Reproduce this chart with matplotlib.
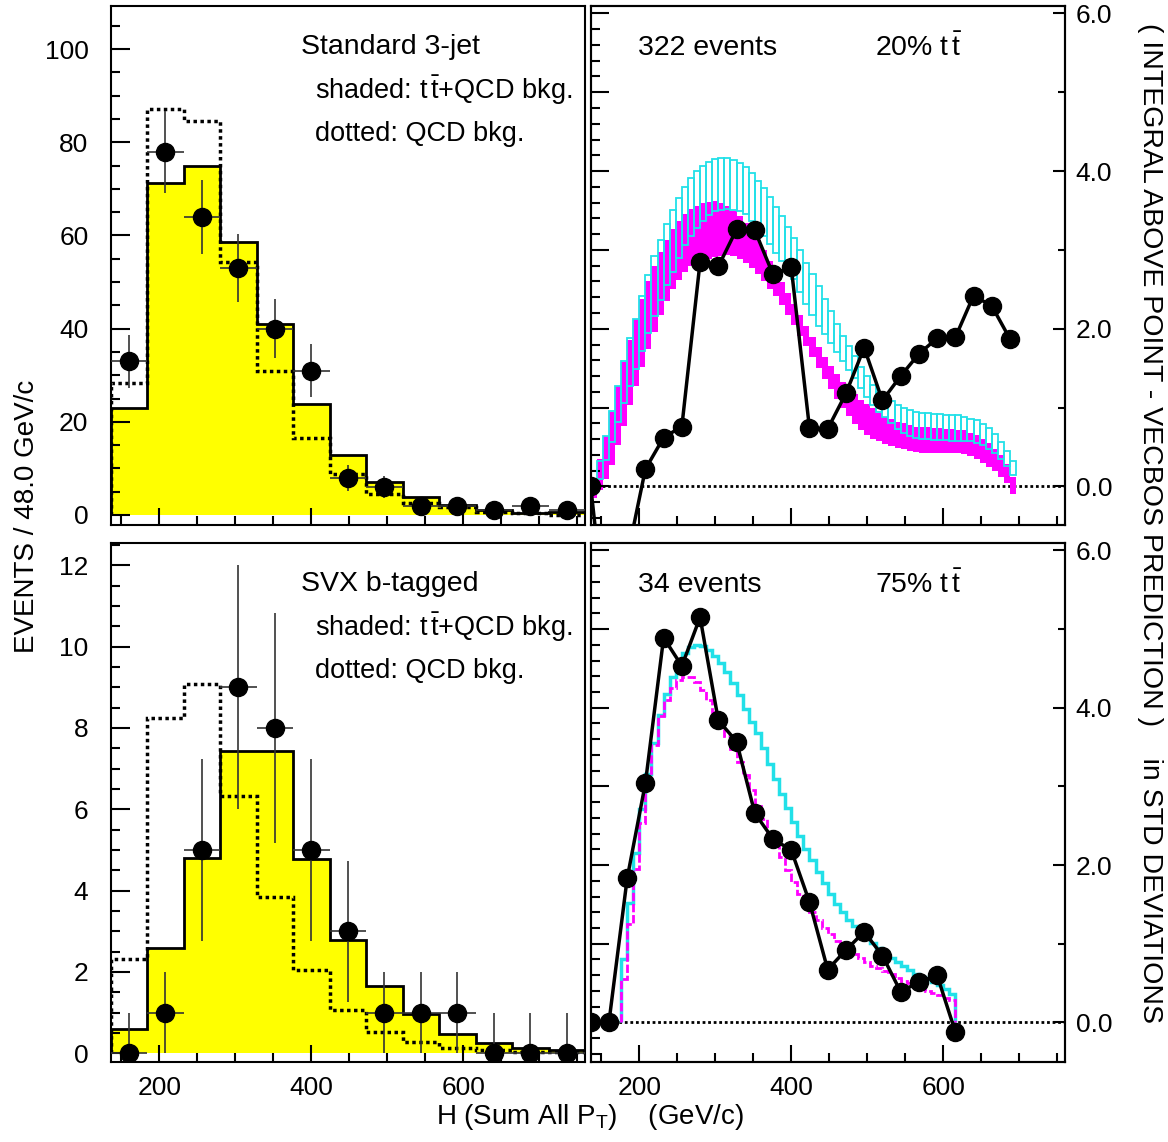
import numpy as np
import matplotlib
matplotlib.use('Agg')
import matplotlib.pyplot as plt
from matplotlib.ticker import MultipleLocator, FormatStrFormatter, NullFormatter

plt.rcParams['font.family'] = ['Liberation Sans', 'DejaVu Sans']
plt.rcParams['mathtext.fontset'] = 'custom'
plt.rcParams['mathtext.rm'] = 'Liberation Sans'
plt.rcParams['mathtext.it'] = 'Liberation Sans:italic'

# --- left panels: 48 GeV bins from 136 to 760 ---
edges = np.arange(136, 761, 48)
centers = edges[:-1] + 24

std_total = [23, 71.2, 74.8, 58.6, 41.0, 23.9, 12.9, 7.1, 3.8, 2.1, 1.1, 0.4, 0.7]
std_qcd = [28.4, 87.1, 84.6, 54.2, 30.9, 16.6, 8.8, 4.6, 2.5, 1.8, 0.7, 0.4, 0.0]
std_data = [33, 78, 64, 53, 40, 31, 8, 6, 2, 2, 1, 2, 1]
std_err = [5.7, 8.8, 8.0, 7.3, 6.3, 5.6, 2.8, 2.4, 1.4, 1.4, 1.0, 1.4, 1.0]

svx_total = [0.59, 2.58, 4.81, 7.44, 7.44, 4.77, 2.78, 1.65, 0.97, 0.47, 0.25, 0.14, 0.07]
svx_qcd = [2.31, 8.25, 9.09, 6.32, 3.84, 2.06, 1.06, 0.53, 0.28, 0.14, 0.07, 0.04, 0.02]
svx_data = [0, 1, 5, 9, 8, 5, 3, 1, 1, 1, 0, 0, 0]
svx_err = [1.0, 1.0, 2.24, 3.0, 2.83, 2.24, 1.73, 1.0, 1.0, 1.0, 1.0, 1.0, 1.0]

# --- right panels: integral above point, std deviations ---
fine_top = np.arange(136, 697, 8)
mag_hi_top = [0.05, 0.35, 0.64, 0.94, 1.28, 1.58, 1.86, 2.13, 2.38, 2.60, 2.80, 2.97, 3.12, 3.26,
              3.37, 3.46, 3.52, 3.56, 3.59, 3.61, 3.62, 3.60, 3.56, 3.50, 3.43, 3.34, 3.23, 3.12,
              3.00, 2.86, 2.72, 2.59, 2.45, 2.31, 2.17, 2.04, 1.90, 1.77, 1.64, 1.53, 1.43, 1.33,
              1.25, 1.17, 1.10, 1.04, 0.99, 0.93, 0.88, 0.85, 0.82, 0.80, 0.78, 0.76, 0.75, 0.75,
              0.74, 0.74, 0.73, 0.73, 0.72, 0.71, 0.68, 0.65, 0.60, 0.55, 0.48, 0.40, 0.28, 0.12]
mag_lo_top = [-0.15, -0.05, 0.09, 0.27, 0.52, 0.77, 1.03, 1.27, 1.52, 1.74, 1.96, 2.18, 2.35, 2.50,
              2.62, 2.72, 2.79, 2.83, 2.86, 2.88, 2.91, 2.92, 2.93, 2.92, 2.89, 2.83, 2.77, 2.70,
              2.61, 2.50, 2.41, 2.30, 2.18, 2.05, 1.91, 1.78, 1.64, 1.50, 1.36, 1.23, 1.11, 1.00,
              0.89, 0.79, 0.71, 0.65, 0.60, 0.57, 0.54, 0.51, 0.49, 0.47, 0.45, 0.44, 0.43, 0.43,
              0.43, 0.43, 0.42, 0.42, 0.42, 0.41, 0.38, 0.35, 0.30, 0.25, 0.19, 0.12, 0.04, -0.09]
cyan_hi_top = [0.02, 0.32, 0.64, 0.96, 1.28, 1.59, 1.88, 2.13, 2.41, 2.68, 2.92, 3.13, 3.33, 3.51,
               3.66, 3.80, 3.91, 4.00, 4.07, 4.12, 4.15, 4.16, 4.16, 4.14, 4.10, 4.05, 3.97, 3.88,
               3.78, 3.67, 3.55, 3.43, 3.29, 3.15, 3.00, 2.84, 2.69, 2.54, 2.38, 2.22, 2.06, 1.91,
               1.78, 1.65, 1.52, 1.40, 1.29, 1.20, 1.14, 1.08, 1.03, 1.00, 0.97, 0.95, 0.93, 0.93,
               0.92, 0.92, 0.91, 0.90, 0.90, 0.88, 0.86, 0.84, 0.79, 0.74, 0.66, 0.56, 0.45, 0.32]
cyan_lo_top = [-0.05, 0.10, 0.33, 0.56, 0.82, 1.06, 1.28, 1.49, 1.72, 1.94, 2.16, 2.37, 2.55, 2.72,
               2.90, 3.06, 3.18, 3.28, 3.37, 3.44, 3.49, 3.51, 3.52, 3.51, 3.49, 3.45, 3.37, 3.28,
               3.18, 3.07, 2.96, 2.86, 2.77, 2.63, 2.47, 2.31, 2.17, 2.04, 1.93, 1.82, 1.71, 1.59,
               1.48, 1.37, 1.25, 1.14, 1.03, 0.95, 0.88, 0.80, 0.73, 0.68, 0.64, 0.62, 0.60, 0.60,
               0.59, 0.59, 0.59, 0.58, 0.58, 0.57, 0.57, 0.55, 0.52, 0.48, 0.42, 0.35, 0.26, 0.15]
pts_top_x = np.arange(136, 689, 24)
pts_top_y = [0.0, -2.1, -0.9, 0.22, 0.62, 0.76, 2.85, 2.79, 3.26, 3.25, 2.69, 2.78,
             0.74, 0.73, 1.18, 1.76, 1.09, 1.40, 1.68, 1.88, 1.89, 2.42, 2.29, 1.87]

fine_bot = np.arange(176, 617, 8)
cyan_bot = [0.80, 1.52, 2.15, 2.71, 3.16, 3.55, 3.91, 4.18, 4.39, 4.57, 4.70, 4.77, 4.80, 4.78,
            4.73, 4.66, 4.57, 4.45, 4.31, 4.16, 3.98, 3.82, 3.68, 3.49, 3.28, 3.10, 2.90, 2.73,
            2.55, 2.37, 2.21, 2.06, 1.91, 1.77, 1.63, 1.51, 1.40, 1.30, 1.23, 1.15, 1.08, 1.01,
            0.94, 0.89, 0.82, 0.77, 0.72, 0.67, 0.62, 0.58, 0.55, 0.51, 0.47, 0.42, 0.36]
mag_bot = [0.55, 1.25, 1.95, 2.54, 3.05, 3.52, 3.89, 4.10, 4.25, 4.35, 4.39, 4.39, 4.33, 4.22,
           4.10, 3.95, 3.80, 3.64, 3.48, 3.31, 3.14, 2.95, 2.75, 2.58, 2.42, 2.26, 2.10, 1.94,
           1.78, 1.63, 1.51, 1.40, 1.30, 1.20, 1.12, 1.04, 0.98, 0.92, 0.87, 0.82, 0.77, 0.72,
           0.69, 0.65, 0.61, 0.57, 0.53, 0.50, 0.47, 0.44, 0.40, 0.37, 0.35, 0.31, 0.28]
pts_bot_x = np.arange(136, 617, 24)
pts_bot_y = [0.0, 0.0, 1.83, 3.04, 4.89, 4.53, 5.15, 3.84, 3.57, 2.66, 2.33, 2.19,
             1.53, 0.67, 0.92, 1.15, 0.85, 0.39, 0.51, 0.60, -0.12]

W, H = 1168, 1142
fig = plt.figure(figsize=(W / 100, H / 100), dpi=100)

def box(x0, y0, x1, y1):
    return [x0 / W, 1 - y1 / H, (x1 - x0) / W, (y1 - y0) / H]

ax_tl = fig.add_axes(box(110.7, 5.7, 585, 524.5))
ax_tr = fig.add_axes(box(590.7, 5.7, 1064.7, 524.5))
ax_bl = fig.add_axes(box(110.7, 542.5, 585, 1061.7))
ax_br = fig.add_axes(box(590.7, 542.5, 1064.7, 1061.7))

FS = 20.5
TFS = 19
dot = (0, (1, 1))
TT = r't$\,\bar{\mathrm{t}}$'


def style_frame(ax):
    for s in ax.spines.values():
        s.set_linewidth(1.5)
    ax.set_xlim(136, 760)
    ax.xaxis.set_major_locator(MultipleLocator(200))
    ax.xaxis.set_minor_locator(MultipleLocator(50))
    ax.tick_params(axis='x', which='both', direction='in', top=False, bottom=True,
                   width=1.5, labelsize=TFS, pad=10)
    ax.tick_params(axis='x', which='major', length=12)
    ax.tick_params(axis='x', which='minor', length=6.5)


def left_panel(ax, total, qcd, data, err, ylim, major, minor, title):
    ax.stairs(total, edges, fill=True, color='yellow', zorder=1)
    ax.stairs(total, edges, color='black', lw=2, zorder=2)
    ax.stairs(qcd, edges, color='black', lw=2.5, ls=dot, zorder=3)
    ax.errorbar(centers, data, xerr=24, yerr=err, fmt='o', color='black', ms=13,
                ecolor='#333333', elinewidth=1.2, capsize=0, zorder=4)
    ax.set_ylim(*ylim)
    style_frame(ax)
    ax.yaxis.set_major_locator(MultipleLocator(major))
    ax.yaxis.set_minor_locator(MultipleLocator(minor))
    ax.tick_params(axis='y', which='both', direction='in', left=True, right=False,
                   width=1.5, labelsize=TFS, pad=16)
    ax.tick_params(axis='y', which='major', length=13.5)
    ax.tick_params(axis='y', which='minor', length=6.5)
    ax.text(0.401, 0.920, title, transform=ax.transAxes, fontsize=FS, va='center')
    ax.text(0.431, 0.836, 'shaded: ' + TT + '+QCD bkg.', transform=ax.transAxes,
            fontsize=19.5, va='center')
    ax.text(0.431, 0.753, 'dotted: QCD bkg.', transform=ax.transAxes, fontsize=19.5, va='center')


def right_axes(ax, ylim):
    ax.set_ylim(*ylim)
    style_frame(ax)
    ax.axhline(0, color='black', lw=2, ls=dot, zorder=0)
    ax.yaxis.set_major_locator(MultipleLocator(1))
    ax.yaxis.set_minor_locator(MultipleLocator(0.2))
    ax.yaxis.set_major_formatter(NullFormatter())
    ax.tick_params(axis='y', which='both', direction='in', left=True, right=False, width=1.5)
    ax.tick_params(axis='y', which='major', length=13)
    ax.tick_params(axis='y', which='minor', length=6.5)
    tw = ax.twinx()
    tw.set_ylim(*ylim)
    tw.yaxis.set_major_locator(MultipleLocator(2))
    tw.yaxis.set_minor_locator(MultipleLocator(1))
    tw.yaxis.set_major_formatter(FormatStrFormatter('%.1f'))
    tw.tick_params(axis='y', which='both', direction='in', width=1.5, labelsize=TFS, pad=8)
    tw.tick_params(axis='y', which='major', length=9)
    tw.tick_params(axis='y', which='minor', length=5)
    for s in tw.spines.values():
        s.set_linewidth(1.5)


# top left
left_panel(ax_tl, std_total, std_qcd, std_data, std_err, (-2.04, 109.3), 20, 5, 'Standard 3-jet')
ax_tl.tick_params(axis='x', labelbottom=False)

# bottom left
left_panel(ax_bl, svx_total, svx_qcd, svx_data, svx_err, (-0.207, 12.56), 2, 0.5, 'SVX b-tagged')

# top right
right_axes(ax_tr, (-0.483, 6.098))
ax_tr.bar(fine_top[:-1], np.subtract(mag_hi_top, mag_lo_top), bottom=mag_lo_top, width=8,
          align='edge', color='magenta', lw=0, zorder=1)
ax_tr.bar(fine_top[:-1], np.subtract(cyan_hi_top, cyan_lo_top), bottom=cyan_lo_top, width=8,
          align='edge', fill=False, edgecolor='#22e0e8', lw=1.3, zorder=2)
ax_tr.plot(pts_top_x, pts_top_y, '-o', color='black', lw=2.5, ms=13, zorder=3)
ax_tr.tick_params(axis='x', labelbottom=False)
ax_tr.text(0.0998, 0.918, '322 events', transform=ax_tr.transAxes, fontsize=FS, va='center')
ax_tr.text(0.600, 0.918, '20% ' + TT, transform=ax_tr.transAxes, fontsize=FS, va='center')

# bottom right
right_axes(ax_br, (-0.50, 6.10))
ax_br.vlines([fine_bot[0], fine_bot[-1]], 0, [mag_bot[0], mag_bot[-1]], color='black', lw=1.2,
             ls=dot, zorder=1)
ax_br.stairs(cyan_bot, fine_bot, color='#22e0e8', lw=2.5, zorder=1)
ax_br.stairs(mag_bot, fine_bot, color='magenta', lw=2, ls=(0, (3, 1)), zorder=2)
ax_br.plot(pts_bot_x, pts_bot_y, '-o', color='black', lw=2.5, ms=13, zorder=3)
ax_br.text(0.0998, 0.918, '34 events', transform=ax_br.transAxes, fontsize=FS, va='center')
ax_br.text(0.600, 0.918, '75% ' + TT, transform=ax_br.transAxes, fontsize=FS, va='center')

fig.text(27 / W, 1 - 516 / H, 'EVENTS / 48.0 GeV/c', rotation=90, fontsize=20,
         ha='center', va='center')
fig.text(590 / W, 1 - 1117 / H, r'H (Sum All P$_\mathrm{T}$)    (GeV/c)', fontsize=20,
         ha='center', va='center')
fig.text(1150 / W, 1 - 523 / H,
         '( INTEGRAL ABOVE POINT - VECBOS PREDICTION )    in STD DEVIATIONS',
         rotation=270, fontsize=20.5, ha='center', va='center')

fig.savefig('out.png', dpi=100)
